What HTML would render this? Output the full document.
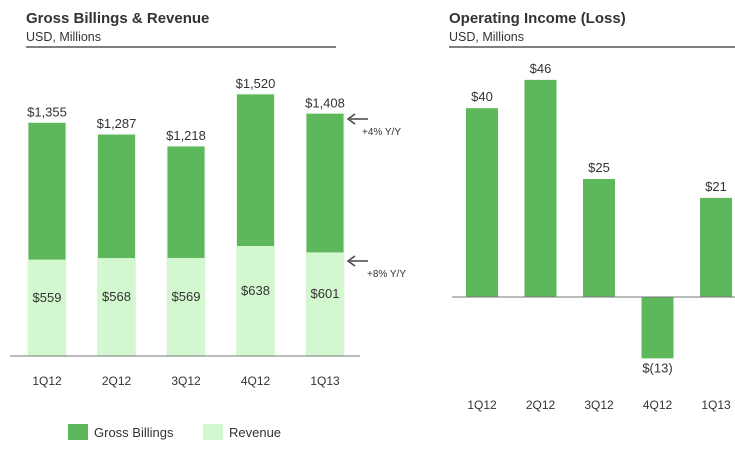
<!DOCTYPE html>
<html><head><meta charset="utf-8"><style>
body{margin:0;background:#fff;font-family:"Liberation Sans",sans-serif;}
svg text{font-family:"Liberation Sans",sans-serif;fill:#333;}
</style></head><body>
<svg width="735" height="448">
<text x="26" y="23" font-size="15" font-weight="bold">Gross Billings &amp; Revenue</text>
<text x="26" y="41" font-size="12.5">USD, Millions</text>
<line x1="26" y1="47" x2="336" y2="47" stroke="#555" stroke-width="1.5"/>
<text x="449" y="23" font-size="15" font-weight="bold">Operating Income (Loss)</text>
<text x="449" y="41" font-size="12.5">USD, Millions</text>
<line x1="449" y1="47" x2="735" y2="47" stroke="#555" stroke-width="1.5"/>
<g id="left"></g><g id="right"></g>
<line x1="10" y1="356" x2="360" y2="356" stroke="#777"/>
<line x1="452" y1="297" x2="735" y2="297" stroke="#777"/>
<g>
<line x1="350" y1="119" x2="368" y2="119" stroke="#444" stroke-width="1.5"/><path d="M355 114 L348 119 L355 124" fill="none" stroke="#444" stroke-width="1.5"/>
<text x="362" y="135" font-size="10">+4% Y/Y</text></g>
<g>
<line x1="350" y1="261" x2="368" y2="261" stroke="#444" stroke-width="1.5"/><path d="M355 256 L348 261 L355 266" fill="none" stroke="#444" stroke-width="1.5"/>
<text x="367" y="277" font-size="10">+8% Y/Y</text></g>
<rect x="68" y="424" width="20" height="16" fill="#5cb85a"/>
<text x="94" y="437" font-size="13">Gross Billings</text>
<rect x="203" y="424" width="20" height="16" fill="#d3f8cf"/>
<text x="229" y="437" font-size="13">Revenue</text>
</svg>
<script>
const categories=["1Q12","2Q12","3Q12","4Q12","1Q13"];
const billings=[1355,1287,1218,1520,1408];
const revenue=[559,568,569,638,601];
const opIncome=[40,46,25,-13,21];
const opLabels=["$40","$46","$25","$(13)","$21"];
const NS="http://www.w3.org/2000/svg";
function mk(tag,attrs,parent,txt){const e=document.createElementNS(NS,tag);for(const k in attrs)e.setAttribute(k,attrs[k]);if(txt!==undefined)e.textContent=txt;parent.appendChild(e);return e;}
const fmt=v=>"$"+v.toLocaleString("en-US");
const L=document.getElementById("left"),R=document.getElementById("right");
const ly=v=>356-v*0.1724, lx=i=>28+i*69.5;
categories.forEach((c,i)=>{
  const x=lx(i);
  const b=mk("rect",{x:x,y:ly(billings[i]),width:38,height:356-ly(billings[i]),fill:"#5cb85a",stroke:"#e8f5e6","stroke-width":1},L);
  
  
  const r=mk("rect",{x:x,y:ly(revenue[i]),width:38,height:356-ly(revenue[i]),fill:"#d3f8cf"},L);
  
  
  const t1=mk("text",{x:x+19,y:ly(billings[i])-6,"font-size":13,"text-anchor":"middle"},L,fmt(billings[i]));
  
  
  const t2=mk("text",{x:x+19,y:ly(revenue[i]/2)-6,"font-size":13,"text-anchor":"middle"},L,fmt(revenue[i]));
  
  
  const t3=mk("text",{x:x+19,y:385,"font-size":12,"text-anchor":"middle"},L,c);
  
  
});
const ry=v=>297-v*4.72, rx=i=>466+i*58.5;
categories.forEach((c,i)=>{
  const x=rx(i),v=opIncome[i];
  const y0=Math.min(ry(v),297),h=Math.abs(ry(v)-297);
  const b=mk("rect",{x:x,y:y0,width:32,height:h,fill:"#5cb85a"},R);
  
  
  const ty=v>=0?ry(v)-7:ry(v)+14;
  const t=mk("text",{x:x+16,y:ty,"font-size":13,"text-anchor":"middle"},R,opLabels[i]);
  
  
  const t3=mk("text",{x:x+16,y:409,"font-size":12,"text-anchor":"middle"},R,c);
  
  
});
</script>
</body></html>
